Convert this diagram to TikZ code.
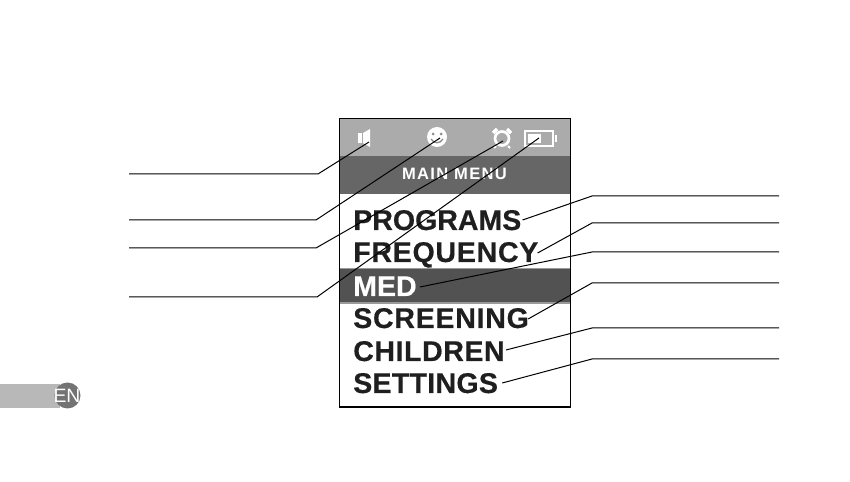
\documentclass[tikz,border=0pt]{standalone}
\usepackage{fontspec}
\setmainfont{Liberation Sans}
\providecommand{\menuBarColor}{black!33}
\providecommand{\menuTitleColor}{black!60}
\providecommand{\menuMedColor}{black!68}
\providecommand{\menuEdgeColor}{black!40}
\tikzset{
  leader/.style={draw=black, line width=0.75pt, line join=round},
  menuitem/.style={anchor=base west, inner sep=0pt, font=\fontsize{21.4}{24}\selectfont\bfseries\addfontfeature{LetterSpace=#1,FakeBold=0.4}, text=black!88},
  menuitem/.default=0,
  icon/.style={fill=white, draw=none},
}
\begin{document}
\begin{tikzpicture}
% one unit is one pixel of the 850x482 page
\def\pxsz{0.75pt}
\begin{scope}[x=\pxsz, y=-\pxsz, yshift=482*\pxsz]
  \useasboundingbox (0,0) rectangle (850,482);
  \fill[white] (0,0) rectangle (850,482);
  % Language tab
  \fill[black!28] (0,384) rectangle (60,408);
  \fill[black!55] (67.5,395.5) circle (13);
  \node[inner sep=0pt, text=white, font=\fontsize{14.5}{16}\selectfont] (langtag) at (67,396) {EN};
  % Screen bars
  \fill[\menuBarColor] (340,119) rectangle (570,156);
  \fill[\menuTitleColor] (340,156) rectangle (570,194);
  \fill[\menuEdgeColor] (340,268) rectangle (570,304);
  \fill[\menuMedColor] (340,269.5) rectangle (570,302.5);
  \draw[black, line width=0.9pt] (339.5,118.5) rectangle (570.5,407);
  % Speaker icon
  \fill[icon] (358,133) rectangle (362,143);
  \fill[icon] (363,133) -- (370,129) -- (370,147) -- (363,143) -- cycle;
  % Smile icon
  \fill[icon] (437,137) circle (10);
  \fill[black!45] (433,134) circle (1.5);
  \fill[black!45] (441,134) circle (1.5);
  \draw[black!45, line width=1pt] (431,139) .. controls (434,144) and (440,144) .. (443,139);
  % Alarm icon
  \draw[white, line width=2pt] (502,138.5) circle (7);
  \draw[white, line width=2.4pt] (493,133) -- (497,129);
  \draw[white, line width=2.4pt] (511,133) -- (507,129);
  \draw[white, line width=1.5pt] (496,146) -- (494,148);
  \draw[white, line width=1.5pt] (508,146) -- (510,148);
  % Battery icon
  \draw[white, line width=1.6pt] (525,131) rectangle (553,146);
  \fill[icon] (528,134) rectangle (541,143);
  \fill[icon] (555,135) rectangle (557,142);
  % Menu text
  \node[inner sep=0pt, anchor=base, text=white, font=\fontsize{12.4}{14}\selectfont\bfseries\addfontfeature{LetterSpace=8}] (menutitle) at (454.5,179.5) {MAIN MENU};
  \node[menuitem] (programs) at (353,230) {PROGRAMS};
  \node[menuitem=2.6] (frequency) at (353,262) {FREQUENCY};
  \node[menuitem, text=white] (med) at (353,296) {MED};
  \node[menuitem=2.6] (screening) at (353,328) {SCREENING};
  \node[menuitem=2] (children) at (353,361) {CHILDREN};
  \node[menuitem=1] (settings) at (353,393) {SETTINGS};
  % Icon ends and label ends
  \coordinate (speaker) at (369,142);
  \coordinate (smile) at (440,138);
  \coordinate (alarm) at (503,141);
  \coordinate (battery) at (539,138);
  \coordinate (speakerlabel) at (129,174);
  \coordinate (smilelabel) at (129,220);
  \coordinate (alarmlabel) at (129,248);
  \coordinate (batterylabel) at (129,297);
  \coordinate (programslabel) at (779,196);
  \coordinate (frequencylabel) at (779,223);
  \coordinate (medlabel) at (779,252);
  \coordinate (screeninglabel) at (779,283);
  \coordinate (childrenlabel) at (779,328);
  \coordinate (settingslabel) at (779,359);
  % Left leaders
  \draw[leader] (speakerlabel) -- (318,174) -- (speaker);
  \draw[leader] (smilelabel) -- (316,220) -- (smile);
  \draw[leader] (alarmlabel) -- (316,248) -- (alarm);
  \draw[leader] (batterylabel) -- (317,297) -- (battery);
  % Right leaders
  \draw[leader] (programslabel) -- (592,196) -- ([shift={(1,-10)}]programs.base east);
  \draw[leader] (frequencylabel) -- (592,223) -- ([shift={(-1,-9)}]frequency.base east);
  \draw[leader] (medlabel) -- (592,252) -- ([shift={(3,-9)}]med.base east);
  \draw[leader] (screeninglabel) -- (592,283) -- ([shift={(-1,-9)}]screening.base east);
  \draw[leader] (childrenlabel) -- (592,328) -- ([shift={(1,-11)}]children.base east);
  \draw[leader] (settingslabel) -- (592,359) -- ([shift={(4,-10)}]settings.base east);
\end{scope}
\end{tikzpicture}
\end{document}
